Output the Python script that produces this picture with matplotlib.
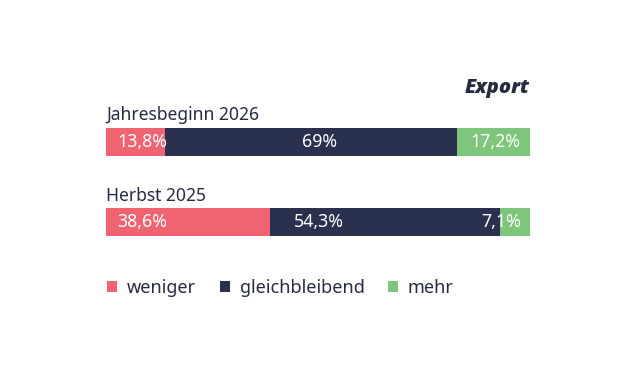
import matplotlib

matplotlib.use("Agg")
import matplotlib.pyplot as plt
from matplotlib.patches import Patch

plt.rcParams["font.family"] = ["Noto Sans", "DejaVu Sans"]

# data ----------------------------------------------------------------------
periods = ["Jahresbeginn 2026", "Herbst 2025"]
series = ["weniger", "gleichbleibend", "mehr"]
weniger = [13.8, 38.6]
gleich = [69.0, 54.3]
mehr = [17.2, 7.1]
labels = [["13,8%", "69%", "17,2%"], ["38,6%", "54,3%", "7,1%"]]
title = "Export"

RED, NAVY, GREEN = "#ef6470", "#29314f", "#7dc67b"
DARK = "#262b40"

W, H = 640, 380
fig = plt.figure(figsize=(W / 100, H / 100), dpi=100)
# bar area: x 106..530 px, row centres at 142 and 222 px
ax = fig.add_axes([106 / W, (H - 262.5) / H, 424 / W, 161 / H])
ax.set_xlim(0, 100)
ax.set_ylim(1.5, -0.5)
ax.axis("off")

ys = list(range(len(periods)))
left = [0.0] * len(periods)
for vals, col, name in zip([weniger, gleich, mehr], [RED, NAVY, GREEN], series):
    ax.barh(ys, vals, left=left, height=0.345, color=col, label=name)
    left = [l + v for l, v in zip(left, vals)]

for i, p in enumerate(periods):
    ax.text(0, i - 0.27, p, ha="left", va="baseline", fontsize=12.6, color=DARK)
    ax.text(2.6, i, labels[i][0], ha="left", va="center", fontsize=12.8,
            color="white")
    ax.text(50.3, i, labels[i][1], ha="center", va="center", fontsize=12.8,
            color="white")
    ax.text(97.8, i, labels[i][2], ha="right", va="center", fontsize=12.8,
            color="white")

fig.text(530 / W, 1 - 93 / H, title, ha="right", va="baseline", fontsize=14.5,
         fontweight="heavy", fontstyle="italic", color=DARK,
         family=["Open Sans", "DejaVu Sans"])

handles = [Patch(facecolor=c, label=s) for c, s in zip([RED, NAVY, GREEN], series)]
fig.legend(handles=handles, loc="center left", bbox_to_anchor=(91 / W, 1 - 288 / H),
           ncol=3, frameon=False, fontsize=13, handlelength=0.55, handleheight=0.55,
           handletextpad=0.55, columnspacing=1.3, labelcolor=DARK)

fig.savefig("out.png", dpi=100, facecolor="white")
